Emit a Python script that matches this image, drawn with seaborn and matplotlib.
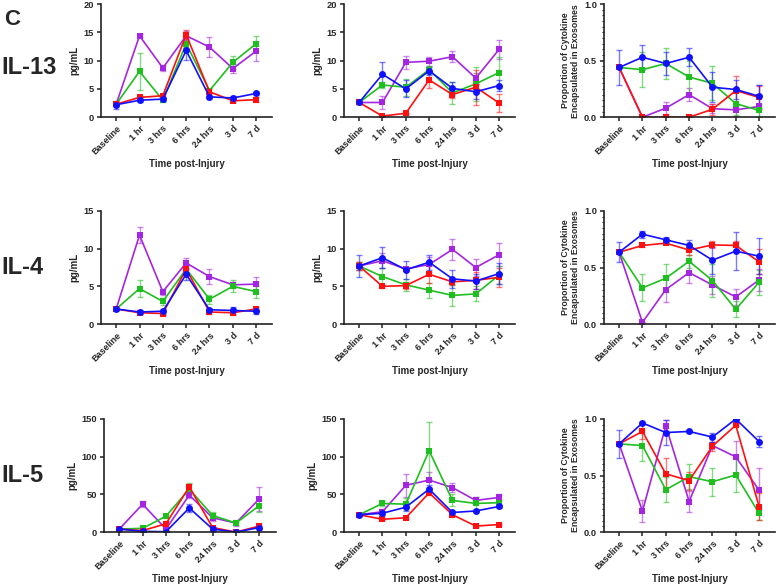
import numpy as np
import pandas as pd
import seaborn as sns
import matplotlib
matplotlib.use('Agg')
import matplotlib.pyplot as plt
from matplotlib.ticker import MultipleLocator

# time points and groups
times = ['Baseline', '1 hr', '3 hrs', '6 hrs', '24 hrs', '3 d', '7 d']
groups = ['purple', 'green', 'red', 'blue']
colors = {'purple': '#A526E0', 'green': '#1FBF1F', 'red': '#FF1010', 'blue': '#1010FF'}
markers = {'purple': 's', 'green': 's', 'red': 's', 'blue': 'o'}

cytokines = ['IL-13', 'IL-4', 'IL-5']

# IL-13
il13_conc = {'purple': [2.3, 14.4, 8.7, 14.4, 12.4, 8.6, 11.7],
             'green': [2.3, 8.1, 3.0, 13.0, 4.7, 9.7, 13.0],
             'red': [2.3, 3.5, 3.8, 14.6, 4.5, 2.9, 3.1],
             'blue': [2.2, 3.0, 3.2, 11.8, 3.6, 3.4, 4.2]}
il13_conc_err = {'purple': [0.3, 0.3, 0.5, 0.8, 1.7, 0.8, 1.8],
                 'green': [0.3, 3.3, 0.4, 1.0, 0.5, 1.2, 1.3],
                 'red': [0.3, 0.3, 0.3, 0.8, 0.4, 0.3, 0.5],
                 'blue': [0.7, 0.3, 0.4, 1.7, 0.4, 0.3, 0.3]}
il13_exo = {'purple': [2.6, 2.6, 9.7, 9.9, 10.7, 6.9, 12.0],
            'green': [2.6, 5.7, 5.3, 8.4, 4.3, 5.9, 7.9],
            'red': [2.6, 0.2, 0.7, 6.6, 4.0, 5.3, 2.5],
            'blue': [2.6, 7.6, 5.0, 8.2, 5.1, 4.5, 5.6]}
il13_exo_err = {'purple': [0.3, 1.2, 1.1, 0.8, 1.0, 1.0, 1.7],
                'green': [0.3, 0.6, 1.5, 0.7, 1.9, 3.0, 2.8],
                'red': [0.3, 0.1, 0.1, 1.5, 0.6, 3.1, 1.6],
                'blue': [0.3, 2.1, 1.5, 0.7, 1.1, 1.3, 0.9]}
il13_prop = {'purple': [0.44, 0.0, 0.08, 0.20, 0.075, 0.065, 0.095],
             'green': [0.44, 0.42, 0.475, 0.355, 0.30, 0.12, 0.06],
             'red': [0.44, 0.0, 0.0, 0.0, 0.07, 0.235, 0.175],
             'blue': [0.44, 0.53, 0.475, 0.53, 0.265, 0.245, 0.185]}
il13_prop_err = {'purple': [0.0, 0.0, 0.05, 0.06, 0.04, 0.05, 0.19],
                 'green': [0.0, 0.155, 0.14, 0.14, 0.15, 0.10, 0.06],
                 'red': [0.0, 0.0, 0.0, 0.0, 0.05, 0.125, 0.10],
                 'blue': [0.155, 0.11, 0.10, 0.08, 0.135, 0.085, 0.10]}

# IL-4
il4_conc = {'purple': [2.0, 11.8, 4.3, 8.1, 6.3, 5.2, 5.3],
            'green': [2.0, 4.7, 3.0, 7.3, 3.3, 5.0, 4.3],
            'red': [2.0, 1.5, 1.4, 7.3, 1.6, 1.5, 2.0],
            'blue': [2.0, 1.6, 1.7, 6.6, 1.9, 1.8, 1.7]}
il4_conc_err = {'purple': [0.2, 1.1, 0.4, 0.7, 1.0, 0.4, 1.0],
                'green': [0.2, 1.1, 0.5, 0.6, 0.6, 0.8, 0.8],
                'red': [0.2, 0.2, 0.2, 0.5, 0.3, 0.3, 0.3],
                'blue': [0.2, 0.2, 0.3, 0.7, 0.2, 0.5, 0.3]}
il4_exo = {'purple': [7.7, 8.4, 7.3, 7.9, 9.9, 7.5, 9.2],
           'green': [7.7, 6.3, 5.2, 4.5, 3.8, 4.0, 6.5],
           'red': [7.7, 5.0, 5.1, 6.6, 5.6, 5.8, 6.2],
           'blue': [7.7, 8.8, 7.2, 8.2, 6.0, 5.7, 6.7]}
il4_exo_err = {'purple': [0.5, 1.0, 0.3, 1.0, 1.4, 1.1, 1.5],
               'green': [0.5, 1.1, 0.8, 1.0, 1.4, 1.0, 1.2],
               'red': [0.5, 0.2, 0.5, 1.1, 0.4, 1.1, 1.3],
               'blue': [1.5, 1.4, 1.2, 1.0, 1.2, 1.0, 1.4]}
il4_prop = {'purple': [0.635, 0.015, 0.305, 0.455, 0.345, 0.24, 0.39],
            'green': [0.635, 0.32, 0.405, 0.555, 0.385, 0.13, 0.37],
            'red': [0.635, 0.695, 0.715, 0.655, 0.70, 0.695, 0.55],
            'blue': [0.635, 0.795, 0.745, 0.695, 0.565, 0.645, 0.60]}
il4_prop_err = {'purple': [0.0, 0.0, 0.11, 0.09, 0.08, 0.07, 0.10],
                'green': [0.0, 0.12, 0.125, 0.06, 0.15, 0.07, 0.11],
                'red': [0.0, 0.01, 0.01, 0.04, 0.03, 0.04, 0.11],
                'blue': [0.09, 0.03, 0.025, 0.045, 0.12, 0.165, 0.16]}

# IL-5
il5_conc = {'purple': [4, 37, 4, 49, 19, 12, 44],
            'green': [4, 5, 21, 57, 22, 12, 35],
            'red': [4, 2, 11, 60, 6, 0, 8],
            'blue': [4, 1, 0.5, 32, 4, 0, 6]}
il5_conc_err = {'purple': [1, 4, 2, 4, 4, 4, 16],
                'green': [1, 1, 2, 8, 4, 2, 8],
                'red': [1, 1, 4, 4, 1, 0.5, 2],
                'blue': [1, 1, 0.5, 5, 2, 0.5, 2]}
il5_exo = {'purple': [23, 27, 62, 69, 59, 42, 46],
           'green': [23, 38, 37, 108, 42, 38, 39],
           'red': [23, 17, 19, 52, 23, 8, 10],
           'blue': [23, 25, 33, 57, 26, 28, 34]}
il5_exo_err = {'purple': [2, 4, 15, 11, 6, 4, 4],
               'green': [2, 3, 8, 38, 8, 8, 4],
               'red': [1, 1, 1, 3, 1, 1, 1],
               'blue': [2, 3, 5, 5, 2, 1, 2]}
il5_prop = {'purple': [0.78, 0.185, 0.94, 0.27, 0.765, 0.665, 0.37],
            'green': [0.78, 0.765, 0.375, 0.49, 0.445, 0.505, 0.165],
            'red': [0.78, 0.89, 0.515, 0.455, 0.76, 0.945, 0.225],
            'blue': [0.78, 0.965, 0.88, 0.89, 0.84, 1.0, 0.80]}
il5_prop_err = {'purple': [0.0, 0.10, 0.05, 0.09, 0.03, 0.14, 0.20],
                'green': [0.0, 0.135, 0.11, 0.11, 0.125, 0.15, 0.06],
                'red': [0.0, 0.07, 0.14, 0.08, 0.04, 0.01, 0.12],
                'blue': [0.125, 0.01, 0.11, 0.01, 0.04, 0.0, 0.05]}

panels = [[(il13_conc, il13_conc_err, 20, 5), (il13_exo, il13_exo_err, 20, 5), (il13_prop, il13_prop_err, 1.0, 0.5)],
          [(il4_conc, il4_conc_err, 15, 5), (il4_exo, il4_exo_err, 15, 5), (il4_prop, il4_prop_err, 1.0, 0.5)],
          [(il5_conc, il5_conc_err, 150, 50), (il5_exo, il5_exo_err, 150, 50), (il5_prop, il5_prop_err, 1.0, 0.5)]]

sns.set_style('ticks')
plt.rcParams['font.family'] = ['Liberation Sans', 'DejaVu Sans']

fig = plt.figure(figsize=(7.77, 5.86), dpi=100)

lefts = [0.130, 0.4427, 0.7773]
bottoms = [0.800, 0.447, 0.092]
w, h = 0.2207, 0.193


def tidy(vals):
    rows = []
    for g in groups:
        for i, v in enumerate(vals[g]):
            rows.append({'t': i, 'value': v, 'group': g})
    return pd.DataFrame(rows)


for r, row in enumerate(panels):
    for c, (vals, errs, ymax, step) in enumerate(row):
        left = lefts[c] + (0.004 if (r == 2 and c == 0) else 0)
        ax = fig.add_axes([left, bottoms[r], w, h])
        x = np.arange(len(times))
        for g in groups:
            ax.errorbar(x, vals[g], yerr=errs[g], fmt='none', ecolor=colors[g],
                        alpha=0.55, elinewidth=1.0, capsize=2.2, capthick=1.0, zorder=1)
        sns.lineplot(data=tidy(vals), x='t', y='value', hue='group', hue_order=groups,
                     palette=colors, style='group', markers=markers, dashes=False,
                     markersize=5, markeredgewidth=0, linewidth=1.2,
                     errorbar=None, legend=False, ax=ax, zorder=2)
        ax.set_xlim(-0.65, 6.7)
        ax.set_ylim(0, ymax)
        ax.set_xticks(x)
        ax.set_xticklabels(times, rotation=45, ha='right', rotation_mode='anchor',
                           fontsize=6.5, fontweight='bold')
        ax.yaxis.set_major_locator(MultipleLocator(step))
        if c == 2:
            ax.yaxis.set_major_formatter(matplotlib.ticker.FormatStrFormatter('%.1f'))
            ax.yaxis.set_minor_locator(MultipleLocator(0.05))
            ax.set_ylabel('Proportion of Cytokine\nEncapsulated in Exosomes',
                          fontsize=6.3, fontweight='bold', labelpad=3, linespacing=1.1)
        else:
            ax.set_ylabel('pg/mL', fontsize=7, fontweight='bold', labelpad=3)
        for lab in ax.get_yticklabels():
            lab.set_fontsize(6.7)
            lab.set_fontweight('bold')
        ax.set_xlabel('Time post-Injury', fontsize=7, fontweight='bold', labelpad=2)
        ax.tick_params(axis='both', which='major', length=3, width=1.1, pad=2, color='#222222')
        ax.tick_params(axis='y', which='minor', length=1.8, width=0.8)
        for s in ['left', 'bottom']:
            ax.spines[s].set_linewidth(1.2)
            ax.spines[s].set_color('#222222')
        sns.despine(ax=ax)

fig.text(0.005, 0.985, 'C', fontsize=16, fontweight='bold', va='top', ha='left')
label_y = [1 - 67 / 586, 1 - 268 / 586, 1 - 476 / 586]
for name, yy in zip(cytokines, label_y):
    fig.text(0.002, yy, name, fontsize=17, fontweight='bold', va='center', ha='left')

fig.savefig('out.png', dpi=100)
